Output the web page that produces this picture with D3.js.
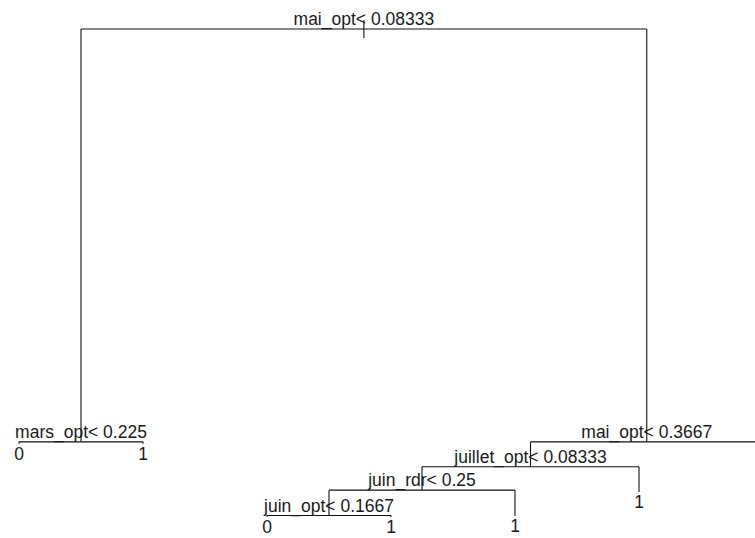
<!DOCTYPE html>
<html>
<head>
<meta charset="utf-8">
<script src="https://cdn.jsdelivr.net/npm/d3@7"></script>
<style>
html, body { margin: 0; padding: 0; background: #fff; }
svg { display: block; }
text { font-family: "Liberation Sans", Arial, sans-serif; font-size: 17.5px; fill: #1a1a1a; }
</style>
</head>
<body>
<svg id="chart" width="755" height="538"></svg>
<script>
// rpart-style node ids (children of n are 2n and 2n+1), listed in preorder
const nodeIds = [1, 2, 4, 5, 3, 6, 12, 24, 48, 49, 25, 13, 7];
const nodeLabels = [
  "mai_opt< 0.08333",
  "mars_opt< 0.225", "0", "1",
  "mai_opt< 0.3667",
  "juillet_opt< 0.08333",
  "juin_rdr< 0.25",
  "juin_opt< 0.1667", "0", "1",
  "1",
  "1",
  "1"
];
// node heights (relative deviance-like vertical position)
const nodeHeights = [1.0, 0.154, 0.150, 0.150, 0.154, 0.103, 0.055, 0.003, 0.0, 0.0, 0.002, 0.051, 0.150];

const svg = d3.select("#chart");
const W = 755, H = 538;

// build tree
const nodes = new Map();
nodeIds.forEach((id, i) => nodes.set(id, { id, label: nodeLabels[i], h: nodeHeights[i] }));
nodes.forEach(n => {
  n.left = nodes.get(2 * n.id) || null;
  n.right = nodes.get(2 * n.id + 1) || null;
  n.leaf = !n.left;
});
let leafIdx = 0;
function assignX(n) {
  if (n.leaf) { leafIdx += 1; n.xv = leafIdx; return n.xv; }
  const a = assignX(n.left), b = assignX(n.right);
  n.xv = (a + b) / 2;
  return n.xv;
}
const root = nodes.get(1);
assignX(root);

const x = d3.scaleLinear().domain([1, leafIdx]).range([19, 763]);
const y = d3.scaleLinear().domain([0, 1]).range([517, 29]);

const g = svg.append("g");
const lineStyle = sel => sel.attr("stroke", "#111").attr("stroke-width", 1.1).attr("fill", "none");

// root stub
g.append("line")
  .attr("x1", x(root.xv)).attr("x2", x(root.xv))
  .attr("y1", y(root.h) - 9).attr("y2", y(root.h) + 9)
  .call(lineStyle);

const internals = [...nodes.values()].filter(n => !n.leaf);
internals.forEach(n => {
  const ny = y(n.h);
  g.append("line")
    .attr("x1", x(n.left.xv)).attr("x2", x(n.right.xv))
    .attr("y1", ny).attr("y2", ny).call(lineStyle);
  [n.left, n.right].forEach(c => {
    g.append("line")
      .attr("x1", x(c.xv)).attr("x2", x(c.xv))
      .attr("y1", ny).attr("y2", y(c.h)).call(lineStyle);
  });
  g.append("text")
    .attr("x", x(n.xv)).attr("y", ny - 4)
    .attr("text-anchor", "middle")
    .text(n.label);
});

// leaf labels (the rightmost leaf lies beyond the plotting window, as in the reference)
const leaves = [...nodes.values()].filter(n => n.leaf && x(n.xv) < W);
leaves.forEach(n => {
  g.append("text")
    .attr("x", x(n.xv)).attr("y", y(n.h) + 16)
    .attr("text-anchor", "middle")
    .text(n.label);
});
</script>
</body>
</html>
